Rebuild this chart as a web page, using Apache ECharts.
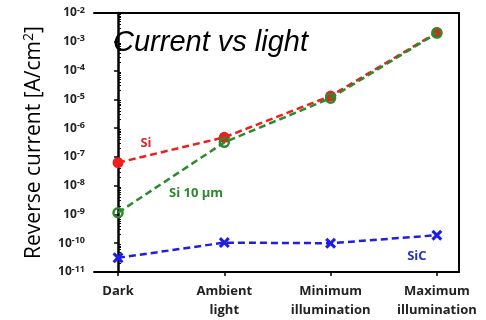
<!DOCTYPE html>
<html>
<head>
<meta charset="utf-8">
<script src="https://cdn.jsdelivr.net/npm/echarts@6/dist/echarts.min.js"></script>
<style>html,body{margin:0;padding:0;background:#fff}#c{width:486px;height:320px}</style>
</head>
<body>
<div id="c"></div>
<script>
const categories = ['Dark', 'Ambient\nlight', 'Minimum\nillumination', 'Maximum\nillumination'];
const siValues = [6.3e-8, 4.8e-7, 1.3e-5, 2.1e-3];
const si10Values = [1.15e-9, 3.2e-7, 1.1e-5, 2.0e-3];
const sicValues = [3.1e-11, 1.05e-10, 1.0e-10, 1.9e-10];
const yExponents = [-11, -10, -9, -8, -7, -6, -5, -4, -3, -2];
const seriesNames = ['Si', 'Si 10 μm', 'SiC'];
const titleText = 'Current vs light';
const yAxisTitle = 'Reverse current [A/cm';

const majorVals = yExponents.map(e => Math.pow(10, e));
const minorVals = [];
yExponents.slice(0, -1).forEach(e => { for (let k = 2; k <= 9; k++) minorVals.push(k * Math.pow(10, e)); });
const catIdx = categories.map((c, i) => i);
const toPairs = arr => arr.map((v, i) => [i, v]);

const RED = '#f21c1c', GREEN = '#2b8a2b', BLUE = '#1e1ee6';
const XMIN = -0.226, XMAX = 3.208;
const xSym = 'path://M2,0 L5,3 L8,0 L10,2 L7,5 L10,8 L8,10 L5,7 L2,10 L0,8 L3,5 L0,2 Z';

const chart = echarts.init(document.getElementById('c'), null, {renderer: 'canvas'});
const si = toPairs(siValues);
const si10 = toPairs(si10Values);
const sic = toPairs(sicValues);
const lbl = (text, color, offset) => ({show: true, formatter: text, position: 'inside', offset: offset, color: color, fontFamily: 'Open Sans', fontWeight: 'bold', fontSize: 13});
si[0] = {value: si[0], label: lbl(seriesNames[0], '#d8262b', [28, -19])};
si10[0] = {value: si10[0], label: lbl(seriesNames[1], '#2a8a2a', [78, -19])};
sic[3] = {value: sic[3], label: lbl(seriesNames[2], '#2233cc', [-20, 21])};

chart.setOption({
  animation: false,
  backgroundColor: '#fff',
  title: {
    text: titleText, left: 113, top: 28, padding: 0,
    textStyle: {fontFamily: 'Liberation Sans', fontStyle: 'italic', fontWeight: 'normal', fontSize: 29, color: '#000'}
  },
  grid: {left: 94, right: 27, top: 13, bottom: 48, containLabel: false, outerBoundsMode: 'none'},
  xAxis: [{
    type: 'value', min: XMIN, max: XMAX, position: 'bottom',
    axisLine: {show: true, lineStyle: {color: '#000', width: 2}},
    axisTick: {show: true, customValues: catIdx, length: 4, lineStyle: {color: '#000', width: 1.5}},
    axisLabel: {
      customValues: catIdx, formatter: v => categories[Math.round(v)] || '',
      fontFamily: 'Open Sans', fontWeight: 'bold', fontSize: 13, color: '#222', lineHeight: 19, margin: 10
    },
    splitLine: {show: false}
  }, {
    type: 'value', min: XMIN, max: XMAX, position: 'top',
    axisLine: {show: true, onZero: false, lineStyle: {color: '#000', width: 2}},
    axisTick: {show: false}, axisLabel: {show: false}, splitLine: {show: false}
  }],
  yAxis: [{
    type: 'log', logBase: 10, min: 1e-11, max: 1e-2, position: 'left',
    name: '{a|' + yAxisTitle + '}{s|2}{a|]}', nameLocation: 'middle', nameRotate: 90, nameGap: 47,
    nameTextStyle: {rich: {
      a: {fontFamily: 'Open Sans', fontSize: 21, color: '#000', lineHeight: 25},
      s: {fontFamily: 'Open Sans', fontSize: 14, color: '#000', padding: [0, 0, 10, 0]}
    }},
    axisLine: {show: true, lineStyle: {color: '#000', width: 2.5}},
    axisTick: {show: true, customValues: majorVals, length: 4, lineStyle: {color: '#000', width: 1.5}},
    axisLabel: {
      customValues: majorVals, margin: 9,
      formatter: v => '{b|10}{s|' + Math.round(Math.log10(v)) + '}',
      rich: {
        b: {fontFamily: 'Open Sans', fontWeight: 'bold', fontSize: 12, color: '#222', lineHeight: 15},
        s: {fontFamily: 'Open Sans', fontWeight: 'bold', fontSize: 9, color: '#222', padding: [0, 0, 6, 0]}
      }
    },
    splitLine: {show: false}
  }, {
    type: 'log', logBase: 10, min: 1e-11, max: 1e-2, position: 'left',
    axisLine: {show: false},
    axisTick: {show: true, inside: true, customValues: minorVals, length: 3, lineStyle: {color: '#000', width: 1}},
    axisLabel: {show: false}, splitLine: {show: false}
  }, {
    type: 'log', logBase: 10, min: 1e-11, max: 1e-2, position: 'right',
    axisLine: {show: true, lineStyle: {color: '#000', width: 2}},
    axisTick: {show: false}, axisLabel: {show: false}, splitLine: {show: false}
  }],
  series: [{
    name: seriesNames[0], type: 'line', data: si, xAxisIndex: 0, yAxisIndex: 0,
    lineStyle: {color: RED, width: 2.5, type: [7, 4]},
    symbol: 'circle', symbolSize: 11, itemStyle: {color: RED}, z: 2
  }, {
    name: seriesNames[1], type: 'line', data: si10, xAxisIndex: 0, yAxisIndex: 0,
    lineStyle: {color: GREEN, width: 2.5, type: [7, 4]},
    symbol: 'circle', symbolSize: 9, itemStyle: {color: 'rgba(0,0,0,0)', borderColor: GREEN, borderWidth: 2.5}, z: 3
  }, {
    name: seriesNames[2], type: 'line', data: sic, xAxisIndex: 0, yAxisIndex: 0,
    lineStyle: {color: BLUE, width: 2.5, type: [7, 4]},
    symbol: xSym, symbolSize: 11, itemStyle: {color: BLUE}, z: 3
  }]
});
</script>
</body>
</html>
